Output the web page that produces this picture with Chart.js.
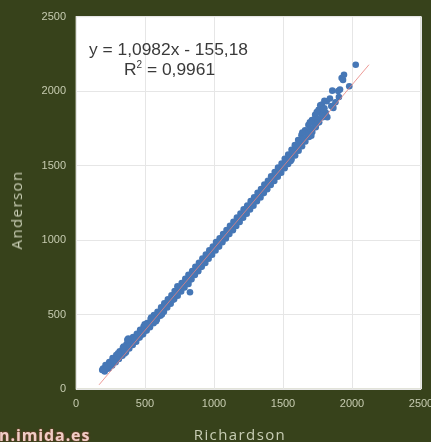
<!DOCTYPE html>
<html>
<head>
<meta charset="utf-8">
<script src="https://cdn.jsdelivr.net/npm/chart.js@4"></script>
<style>
html, body { margin: 0; padding: 0; background: #37421b; overflow: hidden; }
#wrap { position: relative; width: 431px; height: 442px; }
#chart { filter: blur(0.5px); }
.eq { position: absolute; font-family: "Liberation Sans", Arial, sans-serif; font-size: 17.4px; color: #3a3a3a; white-space: nowrap; line-height: 20px; }
.site { position: absolute; left: -1px; top: 424px; font: bold 16px "Open Sans", sans-serif; letter-spacing: 0.9px; color: #f0cdc6; text-shadow: 0 0 2px #a8433c; white-space: nowrap; }
.axis { position: absolute; font: 15px "Open Sans", sans-serif; letter-spacing: 1.4px; color: #c8cdb4; white-space: nowrap; line-height: 20px; }
sup { font-size: 10px; line-height: 0; }
</style>
</head>
<body>
<div id="wrap">
  <canvas id="chart" width="431" height="442"></canvas>
  <div class="eq" style="left:89px;top:39px">y = 1,0982x - 155,18</div>
  <div class="eq" style="left:124px;top:59px">R<sup>2</sup> = 0,9961</div>
  <div class="axis" style="left:240px;top:424px;transform:translateX(-50%)">Richardson</div>
  <div class="axis" style="left:16px;top:210px;transform:translate(-50%,-50%) rotate(-90deg)">Anderson</div>
  <div class="site">n.imida.es</div>
</div>
<script>
const tickValues = [0, 500, 1000, 1500, 2000, 2500];

// upper edge of the band, lower edge, middle, then the stragglers
const richardson = [
    190, 196, 214, 241, 265, 292, 317, 340, 366, 391, 414, 441, 465, 490, 516, 541, 565, 591, 617, 640,
    666, 692, 715, 741, 766, 792, 815, 842, 865, 891, 916, 941, 966, 992, 1015, 1041, 1066, 1091, 1116, 1141,
    1166, 1192, 1215, 1241, 1266, 1291, 1316, 1341, 1365, 1391, 1414, 1440, 1464, 1490, 1513, 1538, 1562, 1586, 1610, 1634,
    1660, 1684, 1710, 1733, 1758, 1782, 1800,
    208, 236, 262, 287, 311, 336, 362, 386, 411, 436, 461, 486, 512, 536, 562, 586, 611, 637, 661, 686,
    711, 737, 762, 786, 811, 837, 861, 886, 911, 937, 961, 986, 1011, 1037, 1061, 1086, 1111, 1137, 1161, 1186,
    1211, 1237, 1261, 1286, 1311, 1337, 1361, 1386, 1411, 1437, 1462, 1487, 1512, 1537, 1562, 1588, 1613, 1638, 1662, 1688,
    1712, 1737, 1762, 1787, 1810,
    200, 225, 250, 275, 300, 325, 350, 375, 400, 425, 450, 475, 500, 525, 550, 575, 600, 625, 650, 675,
    700, 725, 750, 775, 800, 825, 850, 875, 900, 925, 950, 975, 1000, 1025, 1050, 1075, 1100, 1125, 1150, 1175,
    1200, 1225, 1250, 1275, 1300, 1325, 1350, 1375, 1400, 1425, 1450, 1475, 1500, 1525, 1550, 1575, 1600, 1625, 1650, 1675,
    1700, 1725, 1750, 1775, 1800,
    305, 345, 352, 470, 498, 545, 580, 622, 668, 702, 735, 772, 815, 858, 1240, 1555, 1640, 1695, 1705, 1745, 1752, 1770, 1785,
    379, 372, 826, 1857, 1913, 1900, 1925, 1942, 1935, 1980, 2027, 1821, 1865, 1817, 1840, 1880, 1905, 1790, 1850
];
const anderson = [
    128, 138, 160, 181, 207, 228, 253, 277, 300, 323, 349, 371, 397, 420, 443, 470, 497, 519, 548, 575,
    602, 629, 658, 683, 712, 739, 767, 792, 821, 847, 876, 902, 931, 957, 987, 1012, 1041, 1067, 1096, 1122,
    1151, 1177, 1206, 1232, 1261, 1287, 1317, 1342, 1373, 1398, 1428, 1456, 1486, 1514, 1545, 1574, 1606, 1637, 1671, 1704,
    1736, 1772, 1805, 1840, 1875, 1910, 1935,
    118, 137, 158, 180, 202, 224, 247, 272, 295, 318, 345, 367, 392, 415, 442, 466, 492, 518, 547, 573,
    602, 626, 655, 682, 711, 736, 765, 791, 820, 846, 875, 901, 930, 956, 985, 1011, 1040, 1066, 1095, 1121,
    1150, 1176, 1205, 1231, 1260, 1286, 1315, 1341, 1370, 1396, 1425, 1452, 1482, 1510, 1540, 1568, 1600, 1630, 1662, 1692,
    1726, 1758, 1790, 1825, 1855,
    127, 148, 170, 192, 215, 238, 262, 285, 308, 333, 358, 381, 405, 430, 455, 480, 505, 533, 560, 588,
    615, 642, 668, 697, 724, 751, 778, 806, 833, 861, 888, 916, 943, 971, 998, 1026, 1053, 1081, 1108, 1136,
    1163, 1191, 1218, 1246, 1273, 1301, 1328, 1356, 1384, 1412, 1440, 1470, 1498, 1527, 1557, 1587, 1620, 1650, 1682, 1715,
    1747, 1780, 1812, 1850, 1885,
    240, 285, 238, 365, 435, 480, 455, 500, 595, 600, 690, 682, 705, 790, 1215, 1530, 1722, 1790, 1700, 1860, 1790, 1905, 1840,
    339, 330, 650, 2003, 2010, 2000, 2087, 2110, 2075, 2032, 2177, 1825, 1887, 1932, 1950, 1925, 1960, 1880, 1900
];

// trendline end points
const trendX = [167, 2123];
const trendY = [28, 2177];

const plotBg = {
    id: 'plotBg',
    beforeDraw(chart) {
        const a = chart.chartArea;
        const c = chart.ctx;
        c.save();
        c.fillStyle = '#fff';
        c.fillRect(a.left, a.top, a.right - a.left, a.bottom - a.top);
        c.strokeStyle = '#c4c6b2';
        c.lineWidth = 1;
        c.strokeRect(a.left, a.top, a.right - a.left, a.bottom - a.top);
        c.restore();
    }
};

const tickFont = { family: '"Liberation Sans", Arial, sans-serif', size: 11 };

new Chart(document.getElementById('chart'), {
    type: 'scatter',
    data: {
        datasets: [
            {
                label: 'Trend',
                data: trendX.map((x, i) => ({ x: x, y: trendY[i] })),
                showLine: true,
                pointRadius: 0,
                borderWidth: 1,
                borderColor: 'rgba(232,130,125,0.8)',
                order: 0
            },
            {
                label: 'Anderson',
                data: richardson.map((x, i) => ({ x: x, y: anderson[i] })),
                pointRadius: 3.3,
                pointBorderWidth: 0,
                backgroundColor: '#4677b6',
                order: 1
            }
        ]
    },
    options: {
        responsive: false,
        animation: false,
        layout: { padding: { top: 15, right: 10, left: 0, bottom: 0 } },
        plugins: { legend: { display: false }, tooltip: { enabled: false } },
        scales: {
            x: {
                type: 'linear',
                min: 0,
                max: 2500,
                afterFit(s) { s.height = 53; s.paddingRight = 0; },
                afterBuildTicks(s) { s.ticks = tickValues.map(v => ({ value: v })); },
                grid: { color: '#e6e6e6', drawTicks: false },
                border: { display: false },
                ticks: { color: '#c6cbb0', font: tickFont, padding: 8, maxRotation: 0, callback: v => String(v) }
            },
            y: {
                type: 'linear',
                min: 0,
                max: 2500,
                afterFit(s) { s.width = 76; },
                afterBuildTicks(s) { s.ticks = tickValues.map(v => ({ value: v })); },
                grid: { color: '#e6e6e6', drawTicks: false },
                border: { display: false },
                ticks: { color: '#c6cbb0', font: tickFont, padding: 10, callback: v => String(v) }
            }
        }
    },
    plugins: [plotBg]
});
</script>
</body>
</html>
